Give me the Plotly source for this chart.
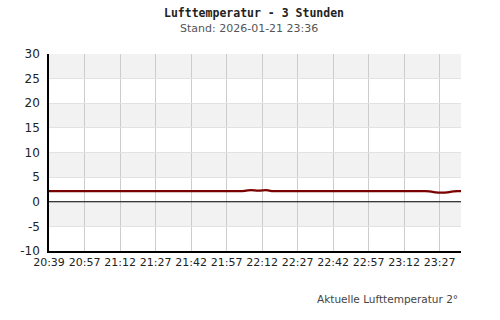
import plotly.graph_objects as go

tick_labels = ["20:39", "20:57", "21:12", "21:27", "21:42", "21:57",
               "22:12", "22:27", "22:42", "22:57", "23:12", "23:27"]
tick_index = [0, 10, 20, 30, 40, 50, 60, 70, 80, 90, 100, 110]
y_ticks = [-10, -5, 0, 5, 10, 15, 20, 25, 30]
y_tick_labels = ["-10", "-5", "0", "5", "10", "15", "20", "25", "30"]

# temperature readings (°C), one per sample index
temps = ([2.15] * 55 +
         [2.2, 2.3, 2.35, 2.3, 2.25, 2.3, 2.35, 2.25] +
         [2.15] * 44 +
         [2.1, 2.0, 1.9, 1.85, 1.85, 1.9, 2.0, 2.1] +
         [2.15] * 2)
idx = list(range(len(temps)))

y_min, y_max = -10, 30

fig = go.Figure()
fig.add_trace(go.Scatter(x=idx, y=temps, mode="lines",
                         line=dict(color="#7a0000", width=2.3, shape="spline"),
                         hoverinfo="skip"))

shapes = []
for i in range(len(y_ticks) - 1):
    lo, hi = y_ticks[i], y_ticks[i + 1]
    if (hi // 5) % 2 == 0:
        shapes.append(dict(type="rect", xref="paper", yref="y", x0=0, x1=1,
                           y0=lo, y1=hi, fillcolor="#f2f2f2",
                           line=dict(width=0), layer="below"))
shapes.append(dict(type="line", xref="paper", yref="y", x0=0, x1=1, y0=0, y1=0,
                   line=dict(color="black", width=1)))

L, R, T, B = 49, 39, 54, 69
W, H = 500, 320
plot_h = H - T - B
plot_w = W - L - R
def paper_y(py):
    return (H - B - py) / plot_h
def paper_x(px):
    return (px - L) / plot_w

fig.update_layout(
    shapes=shapes,
    width=W, height=H,
    margin=dict(l=L, r=R, t=T, b=B),
    paper_bgcolor="white", plot_bgcolor="white",
    showlegend=False,
    font=dict(family="DejaVu Sans", size=11, color="#222"),
    xaxis=dict(range=[0, len(temps) - 1], tickvals=tick_index, ticktext=tick_labels,
               showgrid=True, gridcolor="#cccccc", gridwidth=1,
               showline=True, linecolor="black", linewidth=1.5,
               ticks="", tickfont=dict(size=11, color="#222"), zeroline=False),
    yaxis=dict(range=[y_min, y_max], tickvals=y_ticks, ticktext=y_tick_labels,
               showgrid=True, gridcolor="#e2e2e2", gridwidth=1,
               showline=True, linecolor="black", linewidth=1.5,
               ticks="", ticklabelstandoff=5,
               tickfont=dict(size=12, color="#222"), zeroline=False),
    annotations=[
        dict(text="<b>Lufttemperatur - 3 Stunden</b>", xref="paper", yref="paper",
             x=paper_x(254), y=paper_y(13), xanchor="center", yanchor="middle",
             font=dict(family="DejaVu Sans Mono", size=11.5, color="#222"), showarrow=False),
        dict(text="Stand: 2026-01-21 23:36", xref="paper", yref="paper",
             x=paper_x(249), y=paper_y(28), xanchor="center", yanchor="middle",
             font=dict(family="DejaVu Sans", size=11, color="#555"), showarrow=False),
        dict(text="Aktuelle Lufttemperatur 2°", xref="paper", yref="paper",
             x=paper_x(460), y=paper_y(299), xanchor="right", yanchor="middle",
             font=dict(family="DejaVu Sans", size=10.5, color="#444"), showarrow=False),
    ],
)

fig.write_html("out.html")
